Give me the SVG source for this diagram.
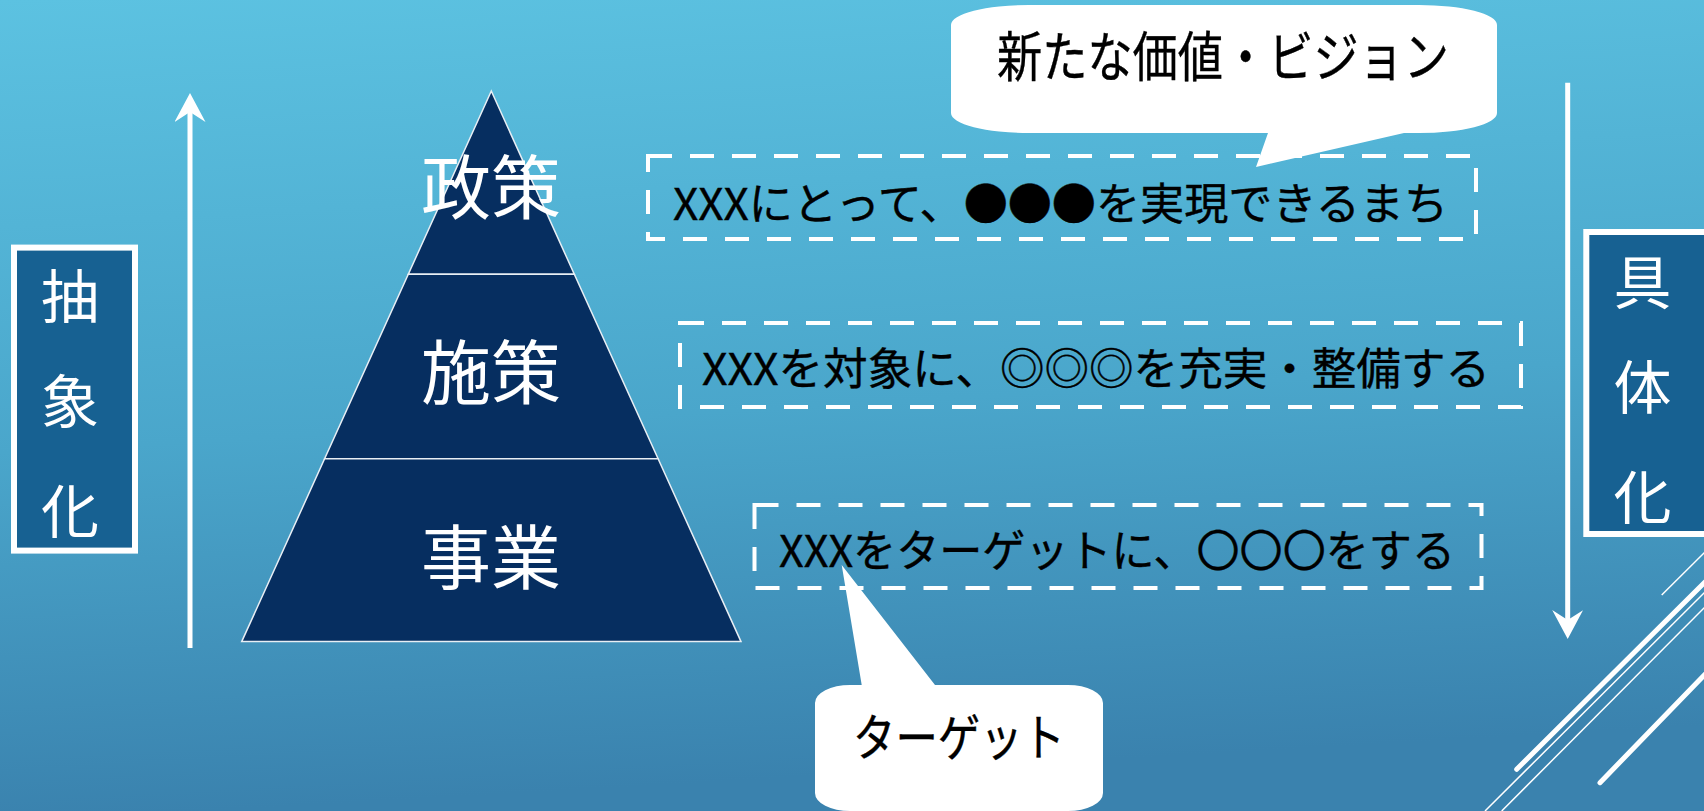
<svg xmlns="http://www.w3.org/2000/svg" width="1704" height="811" viewBox="0 0 1704 811">
<defs>
  <linearGradient id="bg" x1="0" y1="0" x2="0.12" y2="1">
    <stop offset="0" stop-color="#5cc2e1"/>
    <stop offset="0.55" stop-color="#4aa6cb"/>
    <stop offset="1" stop-color="#3a82ae"/>
  </linearGradient>
  <marker id="head" markerUnits="userSpaceOnUse" markerWidth="31" markerHeight="31" viewBox="0 0 29 31" refX="10" refY="15.5" orient="auto">
    <path d="M0,0 L29,15.5 L0,31 L10,15.5 Z" fill="#ffffff"/>
  </marker>
  <style>
    .tier { fill: #062e60; stroke: #e8eef4; stroke-width: 1.5; }
    .tierlbl { font-family: "Noto Sans CJK JP", sans-serif; font-size: 70px; fill: #ffffff; text-anchor: middle; }
    .sidebox { fill: #176192; stroke: #ffffff; stroke-width: 6; }
    .sidelbl { font-family: "Noto Sans CJK JP", sans-serif; font-size: 58px; fill: #ffffff; text-anchor: middle; }
    .dash { fill: none; stroke: #ffffff; stroke-width: 4; stroke-dasharray: 24 18; }
    .desc { font-family: "Noto Sans CJK JP", sans-serif; font-size: 44px; fill: #000000; stroke: #000000; stroke-width: 0.4; }
    .bubble { fill: #ffffff; stroke: none; }
    .bubtxt { font-family: "Noto Sans CJK JP", sans-serif; fill: #000000; stroke: #000000; stroke-width: 0.4; text-anchor: middle; }
    .arrow { stroke: #ffffff; stroke-width: 5; fill: none; marker-end: url(#head); }
    .deco-thick { stroke: #ffffff; stroke-width: 5; stroke-linecap: round; fill: none; }
    .deco-thin { stroke: #ffffff; stroke-width: 1.5; fill: none; }
  </style>
</defs>

<rect x="0" y="0" width="1704" height="811" fill="url(#bg)"/>

<g id="decoration">
  <line class="deco-thin" x1="1661.7" y1="595" x2="1716" y2="541"/>
  <line class="deco-thick" x1="1516.7" y1="769.3" x2="1716" y2="571"/>
  <line class="deco-thin" x1="1485" y1="811" x2="1716" y2="581"/>
  <line class="deco-thin" x1="1501.7" y1="811" x2="1716" y2="596"/>
  <line class="deco-thick" x1="1600" y1="782.7" x2="1716" y2="663"/>
</g>

<g id="connectors">
  <line class="arrow" x1="190" y1="648" x2="190" y2="112"/>
  <line class="arrow" x1="1567.7" y1="82.7" x2="1567.7" y2="620"/>
</g>

<g id="tier-seisaku">
  <polygon class="tier" points="491.3,91 574.3,274.2 408.3,274.2"/>
  <text class="tierlbl" x="491" y="214">政策</text>
</g>
<g id="tier-shisaku">
  <polygon class="tier" points="408.3,274.2 574.3,274.2 658.1,458.8 324.6,458.8"/>
  <text class="tierlbl" x="491" y="399">施策</text>
</g>
<g id="tier-jigyo">
  <polygon class="tier" points="324.6,458.8 658.1,458.8 741,641.6 241.7,641.6"/>
  <text class="tierlbl" x="491" y="584">事業</text>
</g>

<g id="box-chushoka">
  <rect class="sidebox" x="14" y="247.6" width="121" height="303"/>
  <text class="sidelbl" x="70" y="318">抽</text>
  <text class="sidelbl" x="70" y="423">象</text>
  <text class="sidelbl" x="70" y="533">化</text>
</g>

<g id="box-gutaika">
  <rect class="sidebox" x="1586.3" y="232" width="140" height="302"/>
  <text class="sidelbl" x="1642.5" y="304">具</text>
  <text class="sidelbl" x="1642.5" y="409">体</text>
  <text class="sidelbl" x="1642.5" y="519">化</text>
</g>

<g id="desc-seisaku">
  <rect class="dash" x="648" y="156" width="828" height="83"/>
  <text class="desc" x="673" y="220" textLength="775" lengthAdjust="spacingAndGlyphs">XXXにとって、●●●を実現できるまち</text>
</g>

<g id="desc-shisaku">
  <rect class="dash" x="680" y="323" width="841" height="84"/>
  <text class="desc" x="702" y="385" textLength="788" lengthAdjust="spacingAndGlyphs">XXXを対象に、◎◎◎を充実・整備する</text>
</g>

<g id="desc-jigyo">
  <rect class="dash" x="754.5" y="505" width="727" height="83"/>
  <text class="desc" x="779" y="566.7" textLength="676" lengthAdjust="spacingAndGlyphs">XXXをターゲットに、〇〇〇をする</text>
</g>

<g id="callout-vision">
  <path class="bubble" d="M1029,5 H1419 A78,20 0 0 1 1497,25 V113 A78,20 0 0 1 1419,133 H1404 L1256,167 L1268,133 H1029 A78,20 0 0 1 951,113 V25 A78,20 0 0 1 1029,5 Z"/>
  <text class="bubtxt" x="1223" y="77" font-size="54" textLength="452" lengthAdjust="spacingAndGlyphs">新たな価値・ビジョン</text>
</g>

<g id="callout-target">
  <path class="bubble" d="M850,685 H861.7 L841.7,565 L935,685 H1068 A35,18 0 0 1 1103,703 V793 A35,18 0 0 1 1068,811 H850 A35,18 0 0 1 815,793 V703 A35,18 0 0 1 850,685 Z"/>
  <text class="bubtxt" x="959" y="756" font-size="50" textLength="212" lengthAdjust="spacingAndGlyphs">ターゲット</text>
</g>
</svg>
